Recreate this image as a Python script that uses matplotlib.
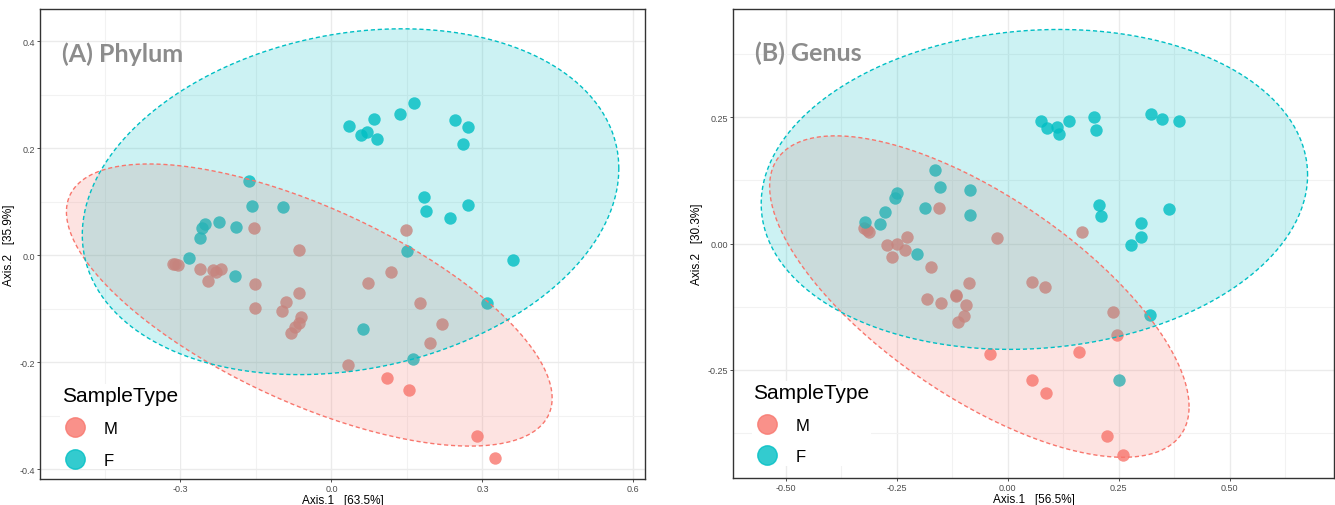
import matplotlib

matplotlib.use("Agg")

import matplotlib.pyplot as plt
import numpy as np
from matplotlib.lines import Line2D

plt.rcParams["font.family"] = ["Liberation Sans", "DejaVu Sans"]
plt.rcParams["axes.unicode_minus"] = False

COL_M = "#F8766D"
COL_F = "#00BFC4"

# ---- panel A: Phylum ----
a_m_x = [-0.315, -0.311, -0.305, -0.262, -0.235, -0.230, -0.219, -0.245, -0.153, -0.152,
         -0.151, -0.065, -0.065, -0.090, -0.099, -0.061, -0.065, -0.073, -0.080, 0.148,
         0.118, 0.072, 0.176, 0.220, 0.196, 0.032, 0.111, 0.154, 0.290, 0.325]
a_m_y = [-0.017, -0.017, -0.018, -0.026, -0.028, -0.031, -0.026, -0.049, 0.050, -0.054,
         -0.099, 0.009, -0.070, -0.087, -0.104, -0.115, -0.126, -0.134, -0.146, 0.047,
         -0.032, -0.052, -0.090, -0.128, -0.164, -0.205, -0.230, -0.251, -0.337, -0.378]
a_f_x = [0.034, 0.059, 0.071, 0.085, 0.090, 0.137, 0.164, 0.245, 0.272, 0.261,
         -0.164, -0.157, -0.096, 0.184, 0.187, 0.235, 0.271, -0.252, -0.257, -0.261,
         -0.223, -0.189, -0.282, -0.192, 0.150, 0.360, 0.310, 0.063, 0.163]
a_f_y = [0.242, 0.225, 0.231, 0.255, 0.217, 0.264, 0.285, 0.252, 0.239, 0.208,
         0.138, 0.092, 0.090, 0.108, 0.082, 0.069, 0.093, 0.058, 0.050, 0.033,
         0.062, 0.052, -0.005, -0.039, 0.007, -0.009, -0.090, -0.138, -0.194]
# ellipse: centre x, centre y, half x-range, half y-range, xy term
a_m_ell = [-0.044, -0.093, 0.4825, 0.2635, -0.084]
a_f_ell = [0.038, 0.100, 0.533, 0.323, 0.033]

# ---- panel B: Genus ----
b_m_x = [-0.324, -0.316, -0.312, -0.271, -0.250, -0.227, -0.232, -0.261, -0.156, -0.173,
         -0.024, 0.167, -0.088, -0.117, -0.116, -0.182, -0.150, -0.094, -0.098, -0.113,
         0.054, 0.083, 0.238, 0.247, -0.041, 0.160, 0.054, 0.087, 0.224, 0.260]
b_m_y = [0.030, 0.026, 0.022, -0.002, 0.000, 0.013, -0.012, -0.026, 0.071, -0.047,
         0.011, 0.023, -0.078, -0.101, -0.104, -0.109, -0.117, -0.121, -0.143, -0.156,
         -0.076, -0.087, -0.135, -0.181, -0.218, -0.214, -0.270, -0.295, -0.381, -0.419]
b_f_x = [0.076, 0.088, 0.110, 0.116, 0.138, 0.195, 0.198, 0.322, 0.348, 0.386,
         -0.164, -0.152, -0.084, -0.249, -0.255, -0.277, -0.187, -0.086, -0.321, -0.287,
         -0.205, 0.205, 0.209, 0.364, 0.301, 0.300, 0.277, 0.320, 0.251]
b_f_y = [0.242, 0.228, 0.230, 0.216, 0.242, 0.251, 0.224, 0.257, 0.246, 0.243,
         0.145, 0.112, 0.106, 0.100, 0.090, 0.062, 0.070, 0.057, 0.043, 0.038,
         -0.020, 0.077, 0.054, 0.068, 0.040, 0.012, -0.002, -0.141, -0.270]
b_m_ell = [-0.064, -0.105, 0.4725, 0.318, -0.103]
b_f_ell = [0.060, 0.107, 0.6155, 0.3165, 0.0175]

panels = [
    dict(title="(A) Phylum", xlabel="Axis.1   [63.5%]", ylabel="Axis.2   [35.9%]",
         m=(a_m_x, a_m_y), f=(a_f_x, a_f_y), m_ell=a_m_ell, f_ell=a_f_ell,
         xlim=(-0.579, 0.623), ylim=(-0.418, 0.460),
         xmajor=[-0.3, 0.0, 0.3, 0.6], xminor=[-0.45, -0.15, 0.15, 0.45],
         ymajor=[-0.4, -0.2, 0.0, 0.2, 0.4], yminor=[-0.3, -0.1, 0.1, 0.3], fmt="{:.1f}",
         rect=[40 / 1335, 26 / 506, 605 / 1335, 470 / 506], leg_at=(0.025, 0.010)),
    dict(title="(B) Genus", xlabel="Axis.1   [56.5%]", ylabel="Axis.2   [30.3%]",
         m=(b_m_x, b_m_y), f=(b_f_x, b_f_y), m_ell=b_m_ell, f_ell=b_f_ell,
         xlim=(-0.619, 0.735), ylim=(-0.464, 0.464),
         xmajor=[-0.5, -0.25, 0.0, 0.25, 0.5], xminor=[-0.375, -0.125, 0.125, 0.375, 0.625],
         ymajor=[-0.25, 0.0, 0.25], yminor=[-0.375, -0.125, 0.125, 0.375], fmt="{:.2f}",
         rect=[733 / 1335, 27 / 506, 601 / 1335, 469 / 506], leg_at=(0.023, 0.015)),
]


def ellipse_path(ell, n=200):
    cx, cy, wx, wy, cxy = ell
    S = np.array([[wx ** 2, cxy], [cxy, wy ** 2]])
    L = np.linalg.cholesky(S)
    t = np.linspace(0, 2 * np.pi, n)
    pts = L @ np.vstack([np.cos(t), np.sin(t)])
    return cx + pts[0], cy + pts[1]


fig = plt.figure(figsize=(13.35, 5.06), dpi=100)

for p in panels:
    ax = fig.add_axes(p["rect"])
    ax.set_xlim(*p["xlim"])
    ax.set_ylim(*p["ylim"])
    ax.set_xticks(p["xmajor"])
    ax.set_xticks(p["xminor"], minor=True)
    ax.set_yticks(p["ymajor"])
    ax.set_yticks(p["yminor"], minor=True)
    ax.set_xticklabels([p["fmt"].format(v) for v in p["xmajor"]])
    ax.set_yticklabels([p["fmt"].format(v) for v in p["ymajor"]])
    ax.grid(which="major", color="#EBEBEB", lw=1.0, zorder=0)
    ax.grid(which="minor", color="#F2F2F2", lw=0.8, zorder=0)
    ax.set_axisbelow(True)
    ax.tick_params(which="major", length=2, width=0.6, color="#333333",
                   labelsize=6.5, labelcolor="#4D4D4D", pad=1.5)
    ax.tick_params(which="minor", length=0)
    for s in ax.spines.values():
        s.set_color("#333333")
        s.set_linewidth(1.0)

    ax.scatter(*p["m"], s=80, color=COL_M, alpha=0.8, linewidths=0, zorder=2)
    ax.scatter(*p["f"], s=80, color=COL_F, alpha=0.8, linewidths=0, zorder=2)

    for ell, col in [(p["m_ell"], COL_M), (p["f_ell"], COL_F)]:
        ex, ey = ellipse_path(ell)
        ax.fill(ex, ey, color=col, alpha=0.2, lw=0, zorder=3)
        ax.plot(ex, ey, color=col, lw=1.0, ls=(0, (3, 2)), zorder=4)

    ax.set_xlabel(p["xlabel"], fontsize=8.5, labelpad=1)
    ax.set_ylabel(p["ylabel"], fontsize=8.5, labelpad=3)
    ax.text(0.036, 0.932, p["title"], transform=ax.transAxes, ha="left", va="top",
            fontsize=18, fontweight="bold", color="#8C8C8C",
            family=["Lato", "DejaVu Sans"], zorder=6)

    handles = [Line2D([], [], marker="o", ls="", markersize=14, color=COL_M, alpha=0.8),
               Line2D([], [], marker="o", ls="", markersize=14, color=COL_F, alpha=0.8)]
    leg = ax.legend(handles, ["M", "F"], title="SampleType", loc="lower left",
                    bbox_to_anchor=p["leg_at"], fontsize=12, title_fontsize=15,
                    frameon=True, facecolor="white", edgecolor="none", framealpha=1,
                    fancybox=False, handletextpad=0.9, labelspacing=0.98,
                    borderpad=0.1, handlelength=1.6, borderaxespad=0.3)
    leg._legend_box.align = "left"
    leg.set_zorder(7)

fig.savefig("out.png", dpi=100)
